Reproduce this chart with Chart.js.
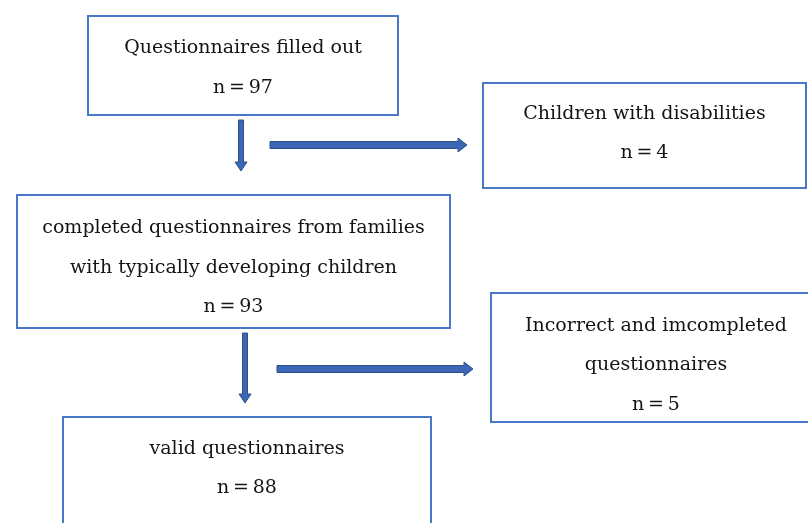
<!DOCTYPE html>
<html>
<head>
<meta charset="utf-8">
<script src="https://cdn.jsdelivr.net/npm/chart.js@4/dist/chart.umd.min.js"></script>
<style>
  html, body { margin: 0; padding: 0; background: #fff; }
  #wrap { width: 808px; height: 523px; }
</style>
</head>
<body>
<div id="wrap"><canvas id="flow" width="808" height="523"></canvas></div>
<script>
// flow stages: text lines and counts
const stageLabels = [
  ['Questionnaires filled out'],
  ['Children with disabilities'],
  ['completed questionnaires from families', 'with typically developing children'],
  ['Incorrect and imcompleted', 'questionnaires'],
  ['valid questionnaires']
];
const stageCounts = [97, 4, 93, 5, 88];

// layout (x, y, w, h in the 808x523 page grid)
const boxRects = [
  [88, 16, 310, 99],
  [483, 83, 323, 105],
  [17, 195, 433, 133],
  [491, 293, 330, 129],
  [63, 417, 368, 120]
];
const textTops = [48.5, 114, 228.5, 326, 449];
const lineGap = 39.5;

// arrows: [x1, y1, x2, y2, shaft half-width, head half-width]
const arrowLinks = [
  [241, 120, 241, 171, 2.5, 6],
  [270, 145, 467, 145, 3.5, 7],
  [245, 333, 245, 403, 2.5, 6],
  [277, 369, 473, 369, 3.5, 7]
];

const palette = {
  border: '#4a78c8',
  arrowFill: '#3d67b4',
  arrowEdge: '#2c4f8e',
  text: '#141414'
};

const flowPlugin = {
  id: 'flowPlugin',
  afterDraw(chart) {
    const { ctx, scales } = chart;
    const px = v => scales.x.getPixelForValue(v);
    const py = v => scales.y.getPixelForValue(v);

    ctx.save();
    // boxes
    boxRects.forEach((r, i) => {
      const x0 = px(r[0]), y0 = py(r[1]);
      const x1 = px(r[0] + r[2]), y1 = py(r[1] + r[3]);
      ctx.fillStyle = '#fff';
      ctx.fillRect(x0, y0, x1 - x0, y1 - y0);
      ctx.strokeStyle = palette.border;
      ctx.lineWidth = 2;
      ctx.strokeRect(x0, y0, x1 - x0, y1 - y0);

      // count line uses thin spaces, like the tight "n = 97" of the source
      const lines = stageLabels[i].concat(['n\u2009=\u2009' + stageCounts[i]]);
      const cx = px(r[0] + r[2] / 2);
      ctx.fillStyle = palette.text;
      ctx.font = '19px "DejaVu Serif", serif';
      ctx.textAlign = 'center';
      ctx.textBaseline = 'middle';
      lines.forEach((t, k) => {
        ctx.fillText(t, cx, py(textTops[i] + k * lineGap));
      });
    });

    // block arrows
    arrowLinks.forEach(a => {
      const x1 = px(a[0]), y1 = py(a[1]), x2 = px(a[2]), y2 = py(a[3]);
      const len = Math.hypot(x2 - x1, y2 - y1);
      const ang = Math.atan2(y2 - y1, x2 - x1);
      const shaft = a[4], head = a[5], headLen = 9;
      ctx.save();
      ctx.translate(x1, y1);
      ctx.rotate(ang);
      ctx.beginPath();
      ctx.moveTo(0, -shaft);
      ctx.lineTo(len - headLen, -shaft);
      ctx.lineTo(len - headLen, -head);
      ctx.lineTo(len, 0);
      ctx.lineTo(len - headLen, head);
      ctx.lineTo(len - headLen, shaft);
      ctx.lineTo(0, shaft);
      ctx.closePath();
      ctx.fillStyle = palette.arrowFill;
      ctx.fill();
      ctx.strokeStyle = palette.arrowEdge;
      ctx.lineWidth = 1;
      ctx.stroke();
      ctx.restore();
    });
    ctx.restore();
  }
};

new Chart(document.getElementById('flow'), {
  type: 'scatter',
  data: { datasets: [{ data: [], showLine: false }] },
  options: {
    responsive: false,
    animation: false,
    events: [],
    layout: { padding: 0 },
    plugins: { legend: { display: false }, tooltip: { enabled: false } },
    scales: {
      x: { type: 'linear', min: 0, max: 808, display: false },
      y: { type: 'linear', min: 0, max: 523, reverse: true, display: false }
    }
  },
  plugins: [flowPlugin]
});
</script>
</body>
</html>
